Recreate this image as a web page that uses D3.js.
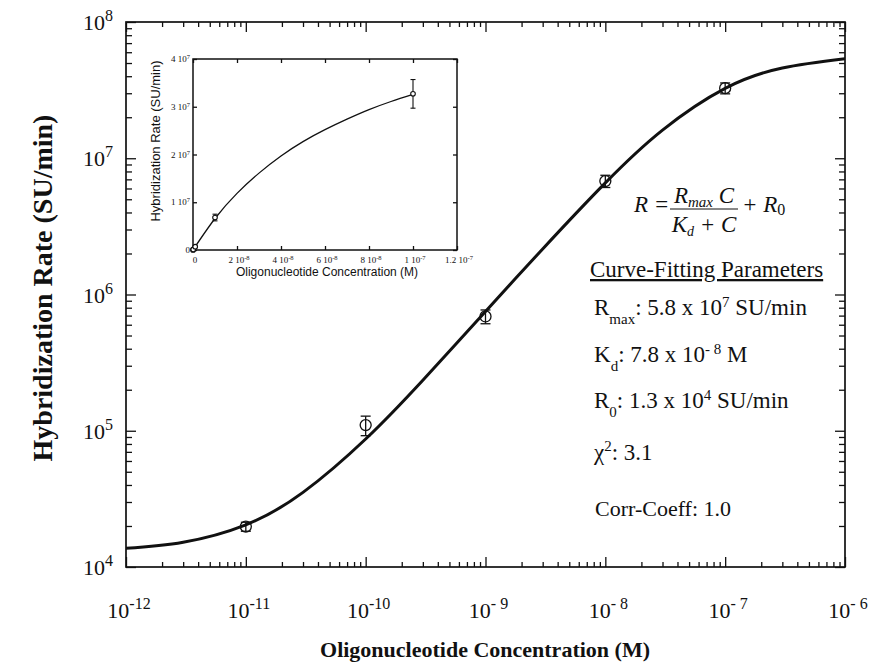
<!DOCTYPE html>
<html lang="en">
<head>
  <meta charset="UTF-8">
  <title>Hybridization Rate</title>
  <script src="https://d3js.org/d3.v7.min.js"></script>
  <style>
    body {
      margin: 0;
      padding: 0;
      background: #fff;
    }
    svg {
      display: block;
    }
    .serif {
      font-family: 'Liberation Serif', 'Times New Roman', serif;
      fill: #111;
    }
    .sans {
      font-family: 'Liberation Sans', Arial, sans-serif;
      fill: #111;
    }
    .axis path {
      display: none;
    }
    .axis line {
      stroke: #111;
      stroke-width: 1.3;
    }
  </style>
</head>
<body>
<svg id="chart" width="876" height="667"></svg>
<script>
  // measured points
  var conc = [1e-11, 1e-10, 1e-9, 1e-8, 1e-7];
  var rate = [1.98e4, 1.1e5, 6.9e5, 6.8e6, 3.27e7];
  var rateErr = [1.5e3, 1.8e4, 8e4, 7e5, 3e6];

  // fitted curve
  var fitConc = [1e-12, 3e-12, 1e-11, 3e-11, 1e-10, 3e-10, 1e-9, 3e-9, 1e-8, 3e-8, 1e-7, 3e-7, 1e-6];
  var fitRate = [1.37e4, 1.52e4, 2.04e4, 3.53e4, 8.7e4, 2.35e5, 7.5e5, 2.16e6, 6.6e6, 1.61e7, 3.26e7, 4.6e7, 5.38e7];

  // fitted curve
  var insetFitConc = [0, 1e-8, 2e-8, 3e-8, 4e-8, 5e-8, 6e-8, 7e-8, 8e-8, 9e-8, 1e-7];
  var insetFitRate = [1.3e4, 6.6e6, 1.185e7, 1.61e7, 1.97e7, 2.27e7, 2.52e7, 2.74e7, 2.94e7, 3.11e7, 3.26e7];

  var xExpLabels = ['-12', '-11', '-10', '- 9', '- 8', '- 7', '- 6'];
  var yExpLabels = ['4', '5', '6', '7', '8'];
  var insetXTicks = [0, 2e-8, 4e-8, 6e-8, 8e-8, 1e-7, 1.2e-7];
  var insetXLabels = [['0', ''], ['2 10', '-8'], ['4 10', '-8'], ['6 10', '-8'], ['8 10', '-8'], ['1 10', '-7'], ['1.2 10', '-7']];
  var insetYTicks = [0, 1e7, 2e7, 3e7, 4e7];
  var insetYLabels = [['0', ''], ['1 10', '7'], ['2 10', '7'], ['3 10', '7'], ['4 10', '7']];

  var svg = d3.select('#chart');

  var x = d3.scaleLog().domain([1e-12, 1e-6]).range([126, 845]);
  var y = d3.scaleLog().domain([1e4, 1e8]).range([567, 22]);

  function rich(sel, parts) {
    parts.forEach(function(p) {
      sel.append('tspan')
        .attr('dy', p[2] || 0)
        .style('font-size', p[1] + 'px')
        .style('font-style', p[3] || null)
        .text(p[0]);
    });
    return sel;
  }

  var isMajor = function(v) {
    return Math.abs(Math.log10(v) - Math.round(Math.log10(v))) < 1e-6;
  };
  var xMajor = x.ticks().filter(isMajor);
  var xMinor = x.ticks().filter(function(v) { return !isMajor(v); });
  var yMajor = y.ticks().filter(isMajor);
  var yMinor = y.ticks().filter(function(v) { return !isMajor(v); });

  function addAxis(makeAxis, scale, major, minor, tx, ty, bigSize, smallSize) {
    svg.append('g').attr('class', 'axis')
      .attr('transform', 'translate(' + [tx, ty] + ')')
      .call(makeAxis(scale).tickValues(minor).tickSize(-smallSize).tickFormat(''));
    svg.append('g').attr('class', 'axis')
      .attr('transform', 'translate(' + [tx, ty] + ')')
      .call(makeAxis(scale).tickValues(major).tickSize(-bigSize).tickFormat(''));
  }

  addAxis(d3.axisBottom, x, xMajor, xMinor, 0, 567, 10, 5);
  addAxis(d3.axisTop, x, xMajor, xMinor, 0, 22, 10, 5);
  addAxis(d3.axisLeft, y, yMajor, yMinor, 126, 0, 10, 6);
  addAxis(d3.axisRight, y, yMajor, yMinor, 845, 0, 10, 6);

  svg.append('rect')
    .attr('x', 126).attr('y', 22)
    .attr('width', 845 - 126).attr('height', 567 - 22)
    .attr('fill', 'none')
    .attr('stroke', '#111')
    .attr('stroke-width', 1.7);

  xMajor.forEach(function(v, i) {
    var t = svg.append('text').attr('class', 'serif')
      .attr('x', x(v) + 3).attr('y', 618)
      .attr('text-anchor', 'middle');
    rich(t, [['10', 22], [xExpLabels[i], 16, -9]]);
  });

  yMajor.forEach(function(v, i) {
    var t = svg.append('text').attr('class', 'serif')
      .attr('x', 113).attr('y', y(v) + 8)
      .attr('text-anchor', 'end');
    rich(t, [['10', 22], [yExpLabels[i], 16, -9]]);
  });

  svg.append('text').attr('class', 'serif')
    .attr('x', 485).attr('y', 657)
    .attr('text-anchor', 'middle')
    .style('font-size', '22px').style('font-weight', 'bold')
    .text('Oligonucleotide Concentration (M)');

  svg.append('text').attr('class', 'serif')
    .attr('transform', 'translate(52,288)rotate(-90)')
    .attr('text-anchor', 'middle')
    .style('font-size', '28px').style('font-weight', 'bold')
    .text('Hybridization Rate (SU/min)');

  svg.append('defs').append('clipPath').attr('id', 'plotClip')
    .append('rect').attr('x', 126).attr('y', 22)
    .attr('width', 845 - 126).attr('height', 567 - 22);

  var line = d3.line()
    .x(function(d) { return x(d[0]); })
    .y(function(d) { return y(d[1]); })
    .curve(d3.curveNatural);

  svg.append('path')
    .datum(d3.zip(fitConc, fitRate))
    .attr('clip-path', 'url(#plotClip)')
    .attr('d', line)
    .attr('fill', 'none')
    .attr('stroke', '#111')
    .attr('stroke-width', 3);

  var pts = svg.selectAll('g.pt')
    .data(d3.zip(conc, rate, rateErr)).enter().append('g')
    .classed('pt', true);
  pts.append('line')
    .attr('x1', function(d) { return x(d[0]); })
    .attr('x2', function(d) { return x(d[0]); })
    .attr('y1', function(d) { return y(d[1] + d[2]); })
    .attr('y2', function(d) { return y(d[1] - d[2]); })
    .attr('stroke', '#111').attr('stroke-width', 1.3);
  [1, -1].forEach(function(s) {
    pts.append('line')
      .attr('x1', function(d) { return x(d[0]) - 5; })
      .attr('x2', function(d) { return x(d[0]) + 5; })
      .attr('y1', function(d) { return y(d[1] + s * d[2]); })
      .attr('y2', function(d) { return y(d[1] + s * d[2]); })
      .attr('stroke', '#111').attr('stroke-width', 1.3);
  });
  pts.append('circle')
    .attr('cx', function(d) { return x(d[0]); })
    .attr('cy', function(d) { return y(d[1]); })
    .attr('r', 5.5)
    .attr('fill', 'none')
    .attr('stroke', '#111').attr('stroke-width', 1.3);

  // equation
  var eq = svg.append('g').attr('class', 'serif').style('font-style', 'italic');
  rich(eq.append('text').attr('x', 634).attr('y', 212), [['R =', 23]]);
  rich(eq.append('text').attr('x', 704).attr('y', 203).attr('text-anchor', 'middle'),
    [['R', 23], ['max', 15, 4], [' C', 23, -4]]);
  eq.append('line')
    .attr('x1', 670).attr('x2', 738).attr('y1', 209).attr('y2', 209)
    .attr('stroke', '#111').attr('stroke-width', 1);
  rich(eq.append('text').attr('x', 704).attr('y', 232).attr('text-anchor', 'middle'),
    [['K', 23], ['d', 14, 4], [' + C', 23, -4]]);
  rich(eq.append('text').attr('x', 742).attr('y', 212),
    [['+ R', 23], ['0', 16, 3, 'normal']]);

  // parameters
  svg.append('text').attr('class', 'serif')
    .attr('x', 590).attr('y', 277)
    .style('font-size', '23px')
    .style('text-decoration', 'underline')
    .text('Curve-Fitting Parameters');

  var params = svg.append('g').attr('class', 'serif');
  rich(params.append('text').attr('x', 594).attr('y', 315),
    [['R', 23], ['max', 15, 9], [': 5.8 x 10', 23, -9], ['7', 15, -8], [' SU/min', 23, 8]]);
  rich(params.append('text').attr('x', 594).attr('y', 362),
    [['K', 23], ['d', 15, 9], [': 7.8 x 10', 23, -9], ['- 8', 15, -8], [' M', 23, 8]]);
  rich(params.append('text').attr('x', 594).attr('y', 408),
    [['R', 23], ['0', 15, 9], [': 1.3 x 10', 23, -9], ['4', 15, -8], [' SU/min', 23, 8]]);
  rich(params.append('text').attr('x', 594).attr('y', 460),
    [['\u03c7', 23], ['2', 15, -9], [': 3.1', 23, 9]]);
  rich(params.append('text').attr('x', 595).attr('y', 516),
    [['Corr-Coeff: 1.0', 22]]);

  // inset
  var ix = d3.scaleLinear().domain([0, 1.2e-7]).range([193, 457]);
  var iy = d3.scaleLinear().domain([0, 4e7]).range([250, 59]);

  svg.append('rect')
    .attr('x', 193).attr('y', 59)
    .attr('width', 457 - 193).attr('height', 250 - 59)
    .attr('fill', '#fff')
    .attr('stroke', '#111')
    .attr('stroke-width', 1.5);

  [[d3.axisBottom(ix), 0, 250], [d3.axisTop(ix), 0, 59]].forEach(function(a) {
    svg.append('g').attr('class', 'axis')
      .attr('transform', 'translate(' + [a[1], a[2]] + ')')
      .call(a[0].tickValues(insetXTicks).tickSize(-4).tickFormat(''));
  });
  [[d3.axisLeft(iy), 193, 0], [d3.axisRight(iy), 457, 0]].forEach(function(a) {
    svg.append('g').attr('class', 'axis')
      .attr('transform', 'translate(' + [a[1], a[2]] + ')')
      .call(a[0].tickValues(insetYTicks).tickSize(-4).tickFormat(''));
  });

  insetXTicks.forEach(function(v, i) {
    var t = svg.append('text').attr('class', 'serif')
      .attr('x', ix(v) + 2).attr('y', 263)
      .attr('text-anchor', 'middle');
    rich(t, [[insetXLabels[i][0], 9], [insetXLabels[i][1], 6.5, -3]]);
  });
  insetYTicks.forEach(function(v, i) {
    var t = svg.append('text').attr('class', 'serif')
      .attr('x', 190).attr('y', iy(v) + 3)
      .attr('text-anchor', 'end');
    rich(t, [[insetYLabels[i][0], 9], [insetYLabels[i][1], 6.5, -3]]);
  });

  svg.append('text').attr('class', 'sans')
    .attr('x', 327).attr('y', 276)
    .attr('text-anchor', 'middle')
    .style('font-size', '12px')
    .text('Oligonucleotide Concentration (M)');
  svg.append('text').attr('class', 'sans')
    .attr('transform', 'translate(160,141)rotate(-90)')
    .attr('text-anchor', 'middle')
    .style('font-size', '13px')
    .text('Hybridization Rate (SU/min)');

  var iline = d3.line()
    .x(function(d) { return ix(d[0]); })
    .y(function(d) { return iy(d[1]); })
    .curve(d3.curveNatural);

  svg.append('path')
    .datum(d3.zip(insetFitConc, insetFitRate))
    .attr('d', iline)
    .attr('fill', 'none')
    .attr('stroke', '#111')
    .attr('stroke-width', 1.3);

  var ipts = svg.selectAll('g.ipt')
    .data(d3.zip(conc, rate, rateErr)).enter().append('g')
    .classed('ipt', true);
  ipts.append('line')
    .attr('x1', function(d) { return ix(d[0]); })
    .attr('x2', function(d) { return ix(d[0]); })
    .attr('y1', function(d) { return iy(d[1] + d[2]); })
    .attr('y2', function(d) { return iy(d[1] - d[2]); })
    .attr('stroke', '#111').attr('stroke-width', 1.1);
  [1, -1].forEach(function(s) {
    ipts.append('line')
      .attr('x1', function(d) { return ix(d[0]) - 2.5; })
      .attr('x2', function(d) { return ix(d[0]) + 2.5; })
      .attr('y1', function(d) { return iy(d[1] + s * d[2]); })
      .attr('y2', function(d) { return iy(d[1] + s * d[2]); })
      .attr('stroke', '#111').attr('stroke-width', 1.1);
  });
  ipts.append('circle')
    .attr('cx', function(d) { return ix(d[0]); })
    .attr('cy', function(d) { return iy(d[1]); })
    .attr('r', 2.3)
    .attr('fill', '#fff')
    .attr('stroke', '#111').attr('stroke-width', 1.1);
</script>
</body>
</html>
